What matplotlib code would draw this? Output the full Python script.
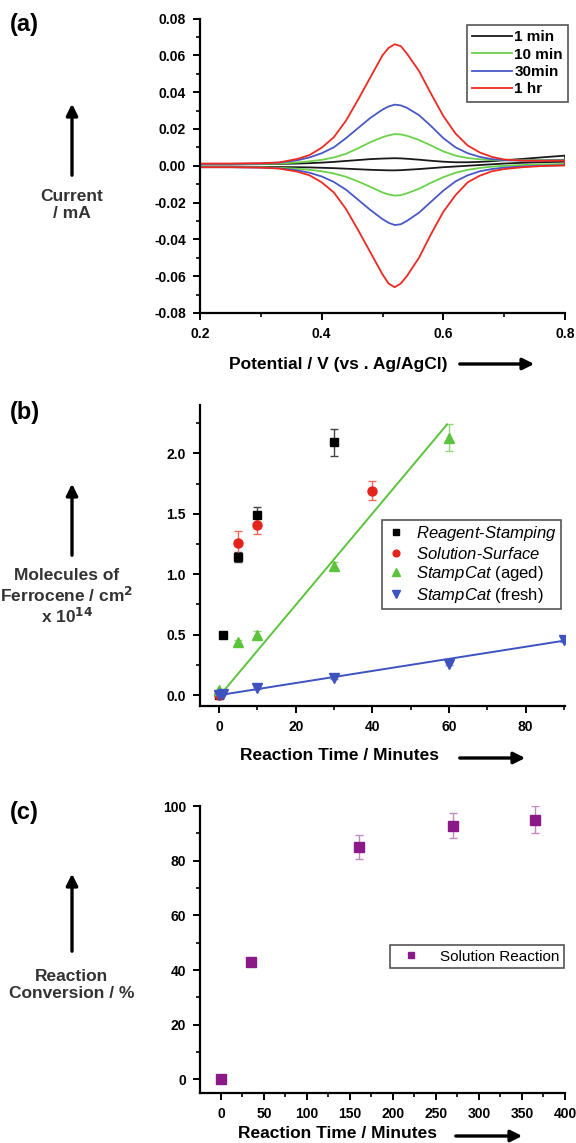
import numpy as np
import matplotlib
matplotlib.use("Agg")
import matplotlib.pyplot as plt
from matplotlib.ticker import MultipleLocator, FormatStrFormatter

plt.rcParams['font.family'] = ['Liberation Sans', 'DejaVu Sans']
plt.rcParams['mathtext.fontset'] = 'custom'
plt.rcParams['mathtext.it'] = 'Liberation Sans:italic'
plt.rcParams['mathtext.rm'] = 'Liberation Sans'

# ---------------- (a) cyclic voltammograms ----------------
potential = [0.20, 0.25, 0.30, 0.33, 0.36, 0.38, 0.40, 0.42, 0.44, 0.46, 0.48,
             0.50, 0.51, 0.52, 0.53, 0.54, 0.56, 0.58, 0.60, 0.62, 0.64, 0.66,
             0.68, 0.70, 0.73, 0.76, 0.80]

cv_1min_ox = [0.0008, 0.0008, 0.0009, 0.0010, 0.0012, 0.0014, 0.0017, 0.0021, 0.0026,
              0.0031, 0.0036, 0.0039, 0.0040, 0.0041, 0.0040, 0.0038, 0.0033, 0.0027,
              0.0022, 0.0019, 0.0019, 0.0021, 0.0025, 0.0030, 0.0037, 0.0045, 0.0055]
cv_1min_red = [-0.0005, -0.0005, -0.0006, -0.0007, -0.0008, -0.0009, -0.0011, -0.0013,
               -0.0016, -0.0019, -0.0022, -0.0024, -0.0025, -0.0025, -0.0024, -0.0022,
               -0.0018, -0.0013, -0.0008, -0.0004, 0.0000, 0.0004, 0.0008, 0.0012,
               0.0016, 0.0019, 0.0022]

cv_10min_ox = [0.0008, 0.0008, 0.0010, 0.0012, 0.0018, 0.0024, 0.0032, 0.0045, 0.0065,
               0.0095, 0.0128, 0.0155, 0.0165, 0.0172, 0.0170, 0.0163, 0.0140, 0.0110,
               0.0078, 0.0055, 0.0042, 0.0035, 0.0032, 0.0030, 0.0030, 0.0031, 0.0033]
cv_10min_red = [-0.0006, -0.0006, -0.0008, -0.0011, -0.0016, -0.0022, -0.0030, -0.0042,
                -0.0060, -0.0085, -0.0115, -0.0145, -0.0156, -0.0162, -0.0160, -0.0150,
                -0.0125, -0.0092, -0.0062, -0.0038, -0.0022, -0.0012, -0.0005, 0.0000,
                0.0004, 0.0007, 0.0010]

cv_30min_ox = [0.0010, 0.0010, 0.0012, 0.0017, 0.0030, 0.0045, 0.0068, 0.0100, 0.0150,
               0.0205, 0.0260, 0.0305, 0.0322, 0.0332, 0.0328, 0.0315, 0.0275, 0.0215,
               0.0150, 0.0100, 0.0068, 0.0048, 0.0036, 0.0030, 0.0028, 0.0028, 0.0030]
cv_30min_red = [-0.0008, -0.0008, -0.0010, -0.0014, -0.0025, -0.0038, -0.0058, -0.0088,
                -0.0130, -0.0185, -0.0240, -0.0290, -0.0310, -0.0322, -0.0318, -0.0300,
                -0.0255, -0.0195, -0.0135, -0.0085, -0.0052, -0.0030, -0.0018, -0.0010,
                -0.0004, 0.0000, 0.0003]

cv_1hr_ox = [0.0012, 0.0012, 0.0014, 0.0018, 0.0037, 0.0058, 0.0098, 0.0155, 0.0245,
             0.0360, 0.0480, 0.0600, 0.0640, 0.0660, 0.0650, 0.0610, 0.0515, 0.0390,
             0.0270, 0.0175, 0.0110, 0.0072, 0.0048, 0.0034, 0.0028, 0.0027, 0.0028]
cv_1hr_red = [-0.0008, -0.0008, -0.0010, -0.0015, -0.0032, -0.0052, -0.0090, -0.0145,
              -0.0235, -0.0350, -0.0470, -0.0590, -0.0640, -0.0660, -0.0640, -0.0600,
              -0.0500, -0.0370, -0.0250, -0.0160, -0.0090, -0.0054, -0.0030, -0.0018,
              -0.0008, -0.0002, 0.0002]

cv_labels = ['1 min', '10 min', '30min', '1 hr']
cv_colors = ['#1a1a1a', '#6cd14a', '#4858c4', '#ec2a22']

# ---------------- (b) surface coverage vs time ----------------
reagent_t = [0, 1, 5, 10, 30]
reagent_y = [0.0, 0.50, 1.14, 1.49, 2.09]
reagent_err = [0.0, 0.02, 0.04, 0.07, 0.11]

solsurf_t = [0, 5, 10, 40]
solsurf_y = [0.0, 1.26, 1.41, 1.69]
solsurf_err = [0.0, 0.10, 0.08, 0.08]

aged_t = [0, 5, 10, 30, 60]
aged_y = [0.04, 0.44, 0.50, 1.07, 2.13]
aged_err = [0.0, 0.02, 0.03, 0.03, 0.11]
aged_fit = (0.0378, -0.01)      # slope, intercept
aged_fit_range = (0, 59.5)

fresh_t = [0, 1, 10, 30, 60, 90]
fresh_y = [0.0, 0.01, 0.06, 0.14, 0.26, 0.46]
fresh_err = [0.0, 0.0, 0.01, 0.01, 0.01, 0.02]
fresh_fit = (0.0050, 0.0)
fresh_fit_range = (0, 90)

# ---------------- (c) solution conversion ----------------
sol_t = [0, 35, 160, 270, 365]
sol_conv = [0.0, 43.0, 85.0, 92.8, 95.0]
sol_err = [0.5, 1.5, 4.5, 4.5, 5.0]

W, H = 576, 1143
fig = plt.figure(figsize=(W / 100, H / 100), dpi=100)


def box(left, top, right, bottom):
    return [left / W, 1 - bottom / H, (right - left) / W, (bottom - top) / H]


def style_axes(ax):
    for s in ('top', 'right'):
        ax.spines[s].set_visible(False)
    for s in ('left', 'bottom'):
        ax.spines[s].set_linewidth(1.6)
    ax.tick_params(which='major', direction='out', length=5, width=1.4,
                   labelsize=10, pad=5)
    ax.tick_params(which='minor', direction='out', length=3, width=1.2)
    for lab in ax.get_xticklabels() + ax.get_yticklabels():
        lab.set_fontweight('bold')


def fig_text(x, y, s, **kw):
    fig.text(x / W, 1 - y / H, s, **kw)


def fig_arrow(x0, y0, x1, y1):
    fig.add_artist(matplotlib.patches.FancyArrowPatch(
        (x0 / W, 1 - y0 / H), (x1 / W, 1 - y1 / H), transform=fig.transFigure,
        arrowstyle='-|>', mutation_scale=17, lw=2.4, color='black'))


left_kw = dict(fontsize=12.5, fontweight='bold', color='#333333',
               ha='center', va='center', linespacing=1.15)
xlab_kw = dict(fontsize=12.5, fontweight='bold', color='black',
               ha='center', va='center')
panel_kw = dict(fontsize=17, fontweight='bold', ha='left', va='center')

# ---- panel (a)
ax_a = fig.add_axes(box(200, 18.5, 565, 313))
curves = [(cv_1min_ox, cv_1min_red), (cv_10min_ox, cv_10min_red),
          (cv_30min_ox, cv_30min_red), (cv_1hr_ox, cv_1hr_red)]
for (ox, red), col, lab in zip(curves, cv_colors, cv_labels):
    xs = potential + potential[::-1] + [potential[0]]
    ys = ox + red[::-1] + [ox[0]]
    ax_a.plot(xs, ys, color=col, lw=1.3, label=lab)
ax_a.set_xlim(0.2, 0.8)
ax_a.set_ylim(-0.08, 0.08)
ax_a.xaxis.set_major_locator(MultipleLocator(0.2))
ax_a.xaxis.set_minor_locator(MultipleLocator(0.1))
ax_a.yaxis.set_major_locator(MultipleLocator(0.02))
ax_a.yaxis.set_minor_locator(MultipleLocator(0.01))
ax_a.xaxis.set_major_formatter(FormatStrFormatter('%.1f'))
ax_a.yaxis.set_major_formatter(FormatStrFormatter('%.2f'))
style_axes(ax_a)
leg = ax_a.legend(loc='upper left', bbox_to_anchor=(467 / W, 1 - 25 / H),
                  bbox_transform=fig.transFigure, prop=dict(size=11, weight='bold'),
                  handlelength=2.6, handletextpad=0.15, labelspacing=0.22,
                  borderpad=0.35, borderaxespad=0, fancybox=False, framealpha=1)
leg.get_frame().set_edgecolor('#555555')
leg.get_frame().set_linewidth(1.2)

fig_text(10, 25, '(a)', **panel_kw)
fig_arrow(72, 178, 72, 101)
fig_text(72, 205, 'Current\n/ mA', **left_kw)
fig_text(338, 364, 'Potential / V (vs . Ag/AgCl)', **xlab_kw)
fig_arrow(457, 364, 537, 364)

# ---- panel (b)
ax_b = fig.add_axes(box(200, 405, 565, 706))
series_b = [
    (reagent_t, reagent_y, reagent_err, 's', '#000000', '#444444',
     r'$\mathit{Reagent}$-$\mathit{Stamping}$', 6),
    (solsurf_t, solsurf_y, solsurf_err, 'o', '#e5231d', '#ee6a5c',
     r'$\mathit{Solution}$-$\mathit{Surface}$', 6.5),
    (aged_t, aged_y, aged_err, '^', '#5cc43c', '#8fd877',
     r'$\mathit{StampCat}$ (aged)', 7.5),
    (fresh_t, fresh_y, fresh_err, 'v', '#3f53c0', '#7a88d6',
     r'$\mathit{StampCat}$ (fresh)', 7.5),
]
for t, y, e, m, c, ec, lab, ms in series_b:
    ax_b.errorbar(t, y, yerr=e, fmt='none', ecolor=ec, elinewidth=1.0,
                  capsize=3, capthick=1.0, zorder=2)
    ax_b.plot(t, y, linestyle='none', marker=m, color=c, markersize=ms,
              label=lab, zorder=3)
for (slope, icpt), (t0, t1), col in [(aged_fit, aged_fit_range, '#5cc43c'),
                                     (fresh_fit, fresh_fit_range, '#3f53c0')]:
    tt = np.array([t0, t1])
    ax_b.plot(tt, slope * tt + icpt, color=col, lw=1.4, zorder=2.5)
ax_b.set_xlim(-5, 90.3)
ax_b.set_ylim(-0.09, 2.4)
ax_b.xaxis.set_major_locator(MultipleLocator(20))
ax_b.xaxis.set_minor_locator(MultipleLocator(10))
ax_b.yaxis.set_major_locator(MultipleLocator(0.5))
ax_b.yaxis.set_minor_locator(MultipleLocator(0.25))
ax_b.yaxis.set_major_formatter(FormatStrFormatter('%.1f'))
style_axes(ax_b)
leg_b = ax_b.legend(loc='upper left', bbox_to_anchor=(382 / W, 1 - 520 / H),
                    bbox_transform=fig.transFigure, prop=dict(size=12),
                    handlelength=1.2, handletextpad=0.6, labelspacing=0.15,
                    borderpad=0.25, borderaxespad=0, fancybox=False,
                    framealpha=1, markerscale=0.75)
leg_b.get_frame().set_edgecolor('#555555')
leg_b.get_frame().set_linewidth(1.2)

fig_text(10, 412, '(b)', **panel_kw)
fig_arrow(72, 558, 72, 481)
fig_text(67, 597, 'Molecules of\nFerrocene / cm$^{\\mathbf{2}}$\nx 10$^{\\mathbf{14}}$',
         **left_kw)
fig_text(340, 756, 'Reaction Time / Minutes', **xlab_kw)
fig_arrow(457, 758, 528, 758)

# ---- panel (c)
ax_c = fig.add_axes(box(200, 806, 565, 1093))
ax_c.errorbar(sol_t, sol_conv, yerr=sol_err, fmt='none', ecolor='#c08ac0',
              elinewidth=1.0, capsize=3, capthick=1.0, zorder=2)
ax_c.plot(sol_t, sol_conv, linestyle='none', marker='s', color='#8a1a88',
          markersize=6.5, label='Solution Reaction', zorder=3)
ax_c.set_xlim(-24.4, 400)
ax_c.set_ylim(-5, 100)
ax_c.xaxis.set_major_locator(MultipleLocator(50))
ax_c.xaxis.set_minor_locator(MultipleLocator(25))
ax_c.yaxis.set_major_locator(MultipleLocator(20))
ax_c.yaxis.set_minor_locator(MultipleLocator(10))
style_axes(ax_c)
leg_c = ax_c.legend(loc='upper left', bbox_to_anchor=(390 / W, 1 - 945 / H),
                    bbox_transform=fig.transFigure, prop=dict(size=11),
                    handlelength=2.2, handletextpad=0.8, borderpad=0.3,
                    borderaxespad=0, fancybox=False, framealpha=1,
                    markerscale=0.75)
leg_c.get_frame().set_edgecolor('#555555')
leg_c.get_frame().set_linewidth(1.2)

fig_text(10, 813, '(c)', **panel_kw)
fig_arrow(72, 954, 72, 871)
fig_text(72, 985, 'Reaction\nConversion / %', **left_kw)
fig_text(338, 1133, 'Reaction Time / Minutes', **xlab_kw)
fig_arrow(453, 1136, 525, 1136)

fig.savefig('out.png', dpi=100)
